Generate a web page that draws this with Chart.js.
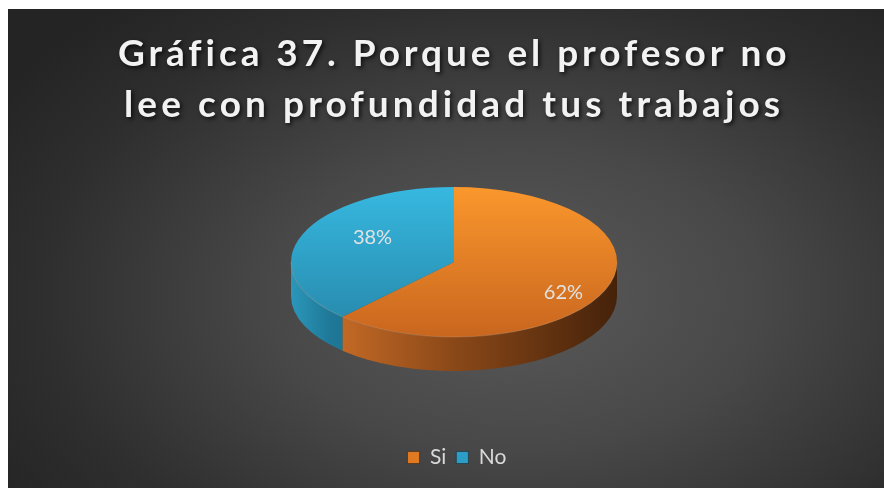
<!DOCTYPE html>
<html lang="es">
<head>
<meta charset="utf-8">
<title>Gráfica 37</title>
<script src="https://cdn.jsdelivr.net/npm/chart.js@4.4.1/dist/chart.umd.min.js"></script>
<style>
  html, body { margin: 0; padding: 0; background: #fff; }
  body { width: 884px; height: 488px; overflow: hidden; position: relative; }
  #marco {
    position: absolute; left: 8px; top: 9px; width: 876px; height: 479px;
    background: radial-gradient(ellipse 70% 80% at 58% 60%, #5a5a5a 0%, #484848 40%, #2e2e2e 78%, #242424 100%);
  }
  canvas { display: block; }
</style>
</head>
<body>
<div id="marco"><canvas id="grafica" width="876" height="479"></canvas></div>
<script>
// datos de la gráfica
const titulo = ['Gráfica 37. Porque el profesor no', 'lee con profundidad tus trabajos'];
const categorias = ['Si', 'No'];
const valores = [62, 38];

// estilo
const coloresSup = [['#fa972c', '#c9661f'], ['#37b8e0', '#2686a8']];
const coloresLado = [
  [[0, '#d67a30'], [0.12, '#c86c27'], [0.5, '#8a4818'], [1, '#45220a']],
  [[0, '#2b97ba'], [0.12, '#1f7898'], [1, '#0f3d4f']]
];
const coloresLeyenda = ['#e07a22', '#2c9dc4'];
const pastel = { cx: 446, cy: 253, rx: 163, ry: 75, fondo: 34, etqDx: 14, etqDy: 3, etqFx: 0.63, etqFy: 1.0 };
const tituloEstilo = { cx: 444, base: [57, 108], anchos: [668, 656] };

// Pastel en 3D: lados dibujados a mano y la cara superior aplastada
const pastel3d = {
  id: 'pastel3d',
  beforeDatasetsDraw(chart) {
    const ctx = chart.ctx;
    const arcs = chart.getDatasetMeta(0).data;
    const { cx, cy, rx, ry, fondo } = pastel;
    arcs.forEach((arc, i) => {
      const a = Math.max(arc.startAngle, 0);
      const b = Math.min(arc.endAngle, Math.PI);
      if (b <= a) return;
      const g = ctx.createLinearGradient(cx - rx, 0, cx + rx, 0);
      coloresLado[i].forEach(([t, c]) => g.addColorStop(t, c));
      ctx.beginPath();
      ctx.ellipse(cx, cy, rx, ry, 0, a, b);
      ctx.ellipse(cx, cy + fondo, rx, ry, 0, b, a, true);
      ctx.closePath();
      ctx.fillStyle = g;
      ctx.fill();
    });
    const { x, y, outerRadius: r } = arcs[0];
    // degradado vertical de la cara superior
    arcs.forEach((arc, i) => {
      const g = ctx.createLinearGradient(0, y - r, 0, y + r);
      g.addColorStop(0, coloresSup[i][0]);
      g.addColorStop(1, coloresSup[i][1]);
      arc.options.backgroundColor = g;
    });
    ctx.save();
    ctx.translate(cx, cy);
    ctx.scale(rx / r, ry / r);
    ctx.translate(-x, -y);
  },
  afterDatasetsDraw(chart) {
    const ctx = chart.ctx;
    ctx.restore();
    const { cx, cy, rx, ry } = pastel;
    // borde claro del frente
    ctx.save();
    ctx.beginPath();
    ctx.ellipse(cx, cy, rx, ry, 0, 0, Math.PI);
    ctx.strokeStyle = 'rgba(255,210,170,0.18)';
    ctx.lineWidth = 1.2;
    ctx.stroke();
    // etiquetas de porcentaje
    const total = valores.reduce((s, v) => s + v, 0);
    ctx.font = '20px Lato';
    ctx.fillStyle = '#e2e2e2';
    ctx.textAlign = 'center';
    ctx.textBaseline = 'middle';
    chart.getDatasetMeta(0).data.forEach((arc, i) => {
      const m = (arc.startAngle + arc.endAngle) / 2;
      const px = cx + pastel.etqDx + rx * pastel.etqFx * Math.cos(m);
      const py = cy + pastel.etqDy + ry * pastel.etqFy * Math.sin(m);
      ctx.fillText(Math.round(valores[i] / total * 100) + '%', px, py);
    });
    ctx.restore();
  },
  afterDraw(chart) {
    const ctx = chart.ctx;
    ctx.save();
    ctx.font = 'bold 37px Lato';
    ctx.fillStyle = '#f2f2f2';
    ctx.shadowColor = 'rgba(0,0,0,0.7)';
    ctx.shadowBlur = 4;
    ctx.shadowOffsetX = 2;
    ctx.shadowOffsetY = 2;
    ctx.textAlign = 'left';
    ctx.textBaseline = 'alphabetic';
    titulo.forEach((linea, i) => {
      ctx.letterSpacing = '0px';
      const w0 = ctx.measureText(linea).width;
      const esp = (tituloEstilo.anchos[i] - w0) / (linea.length - 1);
      ctx.letterSpacing = esp + 'px';
      ctx.fillText(linea, tituloEstilo.cx - tituloEstilo.anchos[i] / 2, tituloEstilo.base[i]);
    });
    ctx.restore();
  }
};

const ctx = document.getElementById('grafica');
new Chart(ctx, {
  type: 'pie',
  data: {
    labels: categorias,
    datasets: [{
      data: valores,
      borderWidth: 0,
      backgroundColor: coloresLeyenda
    }]
  },
  options: {
    responsive: false,
    animation: false,
    layout: { padding: { top: 120, bottom: 10, left: 22 } },
    plugins: {
      title: { display: false },
      tooltip: { enabled: false },
      legend: {
        position: 'bottom',
        labels: {
          color: '#d9d9d9',
          font: { family: 'Lato', size: 21 },
          boxWidth: 12,
          boxHeight: 12,
          padding: 10,
          generateLabels(chart) {
            return categorias.map((nombre, i) => ({
              text: nombre,
              fillStyle: coloresLeyenda[i],
              strokeStyle: 'rgba(0,0,0,0.35)',
              lineWidth: 1,
              fontColor: '#d9d9d9',
              index: i,
              hidden: false
            }));
          }
        }
      }
    }
  },
  plugins: [pastel3d]
});
</script>
</body>
</html>
